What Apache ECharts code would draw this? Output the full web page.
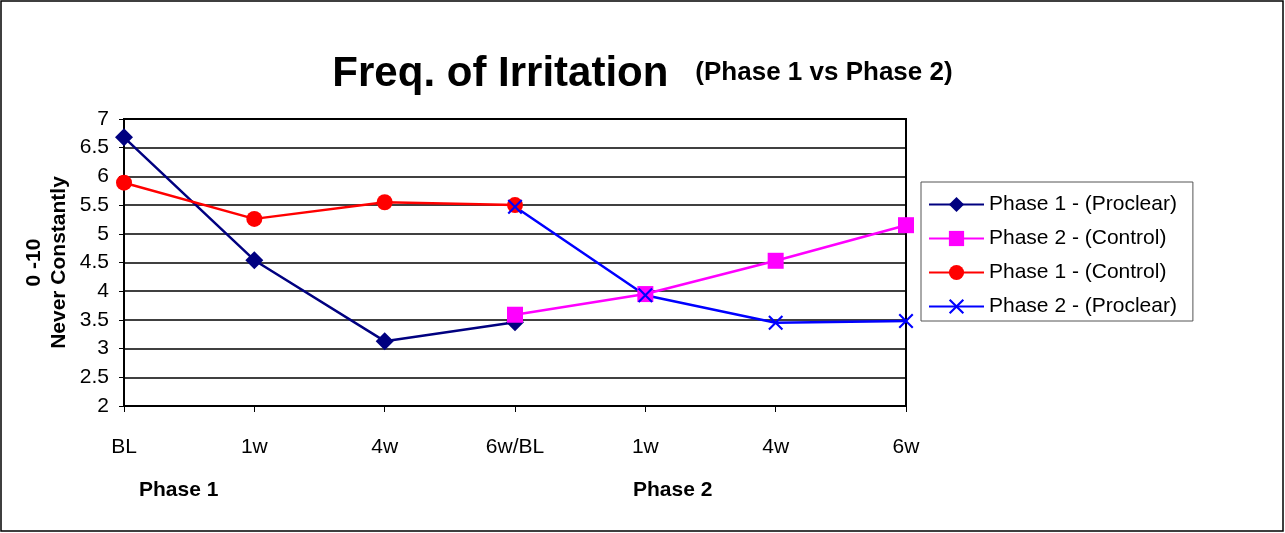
<!DOCTYPE html>
<html>
<head>
<meta charset="utf-8">
<title>Freq. of Irritation</title>
<script src="https://cdn.jsdelivr.net/npm/echarts@6/dist/echarts.min.js"></script>
<style>
  html, body { margin: 0; padding: 0; background: #fff; }
  #main { width: 1285px; height: 533px; }
</style>
</head>
<body>
<div id="main"></div>
<script>
// categories on the x axis
var categories = ['BL', '1w', '4w', '6w/BL', '1w', '4w', '6w'];
// series values (null = not measured in that phase)
var p1Proclear = [6.68, 4.54, 3.13, 3.46, null, null, null];
var p2Control  = [null, null, null, 3.59, 3.95, 4.53, 5.15];
var p1Control  = [5.89, 5.26, 5.55, 5.50, null, null, null];
var p2Proclear = [null, null, null, 5.47, 3.93, 3.45, 3.48];

var font = '"Liberation Sans", Arial, sans-serif';
var xMark = 'path://M0,1 L1,0 L5,4 L9,0 L10,1 L6,5 L10,9 L9,10 L5,6 L1,10 L0,9 L4,5 Z';

function line(name, data, color, symbol, size) {
    return {
        name: name,
        type: 'line',
        data: data,
        symbol: symbol,
        symbolSize: size,
        showAllSymbol: true,
        connectNulls: false,
        itemStyle: { color: color },
        lineStyle: { color: color, width: 2.5 },
        emphasis: { disabled: true },
        animation: false
    };
}

var chart = echarts.init(document.getElementById('main'));
chart.setOption({
    backgroundColor: '#fff',
    animation: false,
    title: {
        text: '{a|Freq. of Irritation}{b|(Phase 1 vs Phase 2)}',
        left: 'center',
        top: 48,
        textStyle: {
            rich: {
                a: { fontFamily: font, fontSize: 42, fontWeight: 'bold', color: '#000' },
                b: { fontFamily: font, fontSize: 26, fontWeight: 'bold', color: '#000',
                     padding: [0, 0, 2, 27] }
            }
        }
    },
    grid: {
        left: 124, top: 119, width: 782, height: 287,
        show: true, borderColor: '#000', borderWidth: 2, backgroundColor: '#fff'
    },
    legend: {
        orient: 'vertical',
        left: 921, top: 182,
        padding: [12, 16, 4, 7],
        itemGap: 13,
        itemWidth: 55,
        itemHeight: 19,
        borderColor: '#555',
        borderWidth: 1,
        backgroundColor: '#fff',
        textStyle: { fontFamily: font, fontSize: 21, color: '#000' },
        data: ['Phase 1 - (Proclear)', 'Phase 2 - (Control)', 'Phase 1 - (Control)', 'Phase 2 - (Proclear)']
    },
    xAxis: {
        type: 'category',
        data: categories,
        boundaryGap: false,
        axisLine: { lineStyle: { color: '#000', width: 2 } },
        axisTick: { show: true, alignWithLabel: true, length: 6, lineStyle: { color: '#000' } },
        axisLabel: { margin: 31, fontFamily: font, fontSize: 21, color: '#000' },
        splitLine: { show: false }
    },
    yAxis: {
        type: 'value',
        min: 2, max: 7, interval: 0.5,
        name: '0 -10\nNever Constantly',
        nameLocation: 'middle',
        nameRotate: 90,
        nameGap: 52,
        nameMoveOverlap: false,
        nameTextStyle: { fontFamily: font, fontSize: 21, fontWeight: 'bold', color: '#000', lineHeight: 25 },
        axisLine: { show: true, lineStyle: { color: '#000', width: 2 } },
        axisTick: { show: true, length: 5, lineStyle: { color: '#000' } },
        axisLabel: { margin: 15, fontFamily: font, fontSize: 21, color: '#000' },
        splitLine: { lineStyle: { color: '#000', width: 1.5 } }
    },
    series: [
        line('Phase 1 - (Proclear)', p1Proclear, '#000080', 'diamond', 18),
        line('Phase 2 - (Control)', p2Control, '#ff00ff', 'rect', 16),
        line('Phase 1 - (Control)', p1Control, '#ff0000', 'circle', 16),
        line('Phase 2 - (Proclear)', p2Proclear, '#0000ff', xMark, 15)
    ],
    graphic: [
        { type: 'rect', shape: { x: 1, y: 1, width: 1282, height: 530 },
          style: { fill: null, stroke: '#000', lineWidth: 1.5 }, silent: true },
        { type: 'text', left: 139, top: 480,
          style: { text: 'Phase 1', font: 'bold 21px ' + font, fill: '#000' } },
        { type: 'text', left: 633, top: 480,
          style: { text: 'Phase 2', font: 'bold 21px ' + font, fill: '#000' } }
    ]
});
</script>
</body>
</html>
